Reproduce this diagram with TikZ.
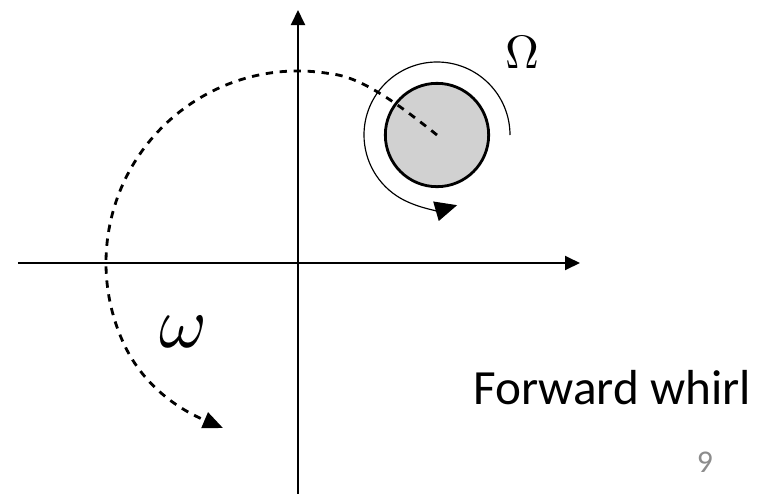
\documentclass[tikz,border=0pt]{standalone}
\usepackage{graphicx}
\usepackage{fontspec}
\newfontfamily\slidefont{Carlito}
\usetikzlibrary{positioning}
\usetikzlibrary{arrows.meta}
\usetikzlibrary{calc}

\begin{document}
\begin{tikzpicture}[
    x=0.03cm, y=0.03cm,
    axis/.style={draw, line width=1.6pt, -{Triangle[length=0.45cm, width=0.42cm]}},
    rotor/.style={
        circle,
        draw,
        line width=2.4pt,
        fill=black!18,
        minimum size=3.1cm,
        inner sep=0pt
    },
    spin/.style={draw, line width=1pt, -{Triangle[length=0.66cm, width=0.6cm]}},
    whirl/.style={
        draw,
        line width=2.4pt,
        dash pattern=on 0.22cm off 0.2cm,
        -{Triangle[length=0.6cm, width=0.5cm]}
    },
    tag/.style={inner sep=0pt}
]

\useasboundingbox (-298,-230) rectangle (462,263);

% axes
\coordinate (O) at (0,0);
\coordinate (xstart) at (-280,0);
\coordinate (xend) at (282,0);
\coordinate (ystart) at (0,-232);
\coordinate (yend) at (0,253);
\draw[axis] (xstart) -- (xend);
\draw[axis] (ystart) -- (yend);

% rotor and its spin
\node[rotor] (disc) at (139,128) {};
\draw[spin] ($(disc.center)+(73,0)$) arc (0:286:73);

% whirl orbit
\coordinate (whirltip) at (-75,-165);
\draw[whirl] (disc.center) .. controls (105,155) and (65,186) .. (80:192)
    arc (80:205:192) .. controls (-153,-126) and (-115,-148) .. (whirltip);

% labels
\node[tag] (Omega) at (224,211) {\scalebox{4}{$\Omega$}};
\node[tag] (omega) at (-115,-69) {\scalebox{6.2}{$\omega$}};
\node[tag] (caption) at (314,-125) {\slidefont\fontsize{42}{50}\selectfont Forward whirl};
\node[tag, text=black!45] (page) at (407,-199) {\slidefont\fontsize{27}{32}\selectfont 9};

\end{tikzpicture}
\end{document}
